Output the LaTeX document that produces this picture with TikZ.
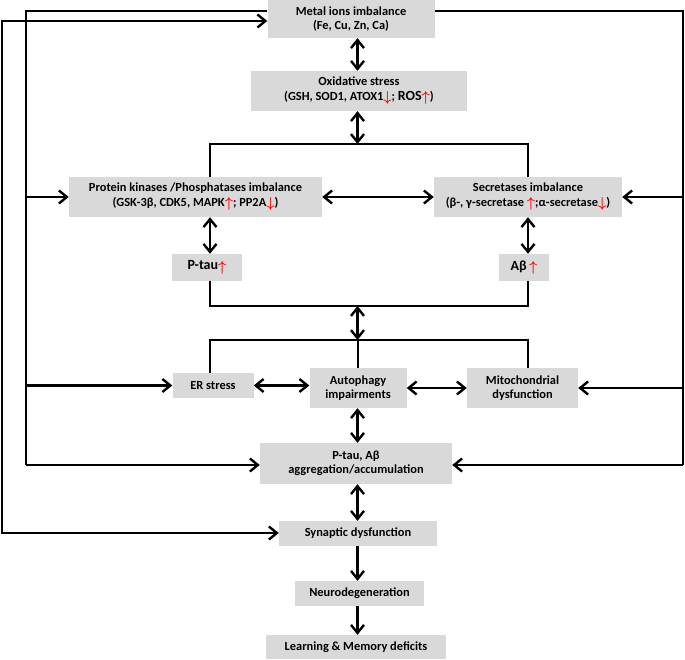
\documentclass[tikz,border=0pt]{standalone}
\usepackage{bm}
\usepackage{fontspec}
\setmainfont{Carlito}
\usepackage{xcolor}
\usepackage{tikz}
\usetikzlibrary{arrows.meta,calc}

\definecolor{boxgray}{RGB}{217,217,217}
\newcommand{\upred}{\textcolor{red}{\raisebox{-1.5pt}{\fontsize{15}{15}\selectfont$\bm{\uparrow}$}}}
\newcommand{\downred}{\textcolor{red}{\raisebox{-1.5pt}{\fontsize{15}{15}\selectfont$\bm{\downarrow}$}}}

\begin{document}
\begin{tikzpicture}[
    x=1pt, y=-1pt,
    font=\fontsize{12.4}{14.5}\selectfont\bfseries,
    box/.style={fill=boxgray, inner sep=1pt, align=center},
    link/.style={draw=black, line width=2pt, line join=miter},
    one/.style={link, line width=2.4pt, -{Straight Barb[length=8pt, width=13pt]}},
    dbl/.style={link, line width=2.4pt, {Straight Barb[length=8pt, width=13pt]}-{Straight Barb[length=8pt, width=13pt]}}
]
    \useasboundingbox (0,0) rectangle (685,660);

    % ==================== BOXES ====================
    \node[box, minimum width=167pt, minimum height=38pt] (metal) at (351,19) {Metal ions imbalance\\(Fe, Cu, Zn, Ca)};
    \node[box, minimum width=216pt, minimum height=40pt] (oxid) at (359,91) {Oxidative stress\\(GSH, SOD1, ATOX1\downred; {\fontsize{14}{14.5}\selectfont ROS}\upred)};
    \node[box, minimum width=253pt, minimum height=40pt] (kinase) at (195.5,197) {Protein kinases /Phosphatases imbalance\\(GSK-3β, CDK5, MAPK\upred; PP2A\downred)};
    \node[box, minimum width=188pt, minimum height=40pt] (secret) at (528,197) {Secretases imbalance\\(β-, γ-secretase \upred;α-secretase\downred )};
    \node[box, minimum width=70pt, minimum height=27pt, font=\fontsize{14}{16}\selectfont\bfseries] (ptau) at (207,267.5) {P-tau\upred};
    \node[box, minimum width=50pt, minimum height=27pt, font=\fontsize{14}{16}\selectfont\bfseries] (abeta) at (524,267.5) {Aβ\,\upred};
    \node[box, minimum width=81pt, minimum height=25pt] (er) at (213,385.5) {ER stress};
    \node[box, minimum width=97pt, minimum height=40pt] (auto) at (358,388) {Autophagy\\impairments};
    \node[box, minimum width=111pt, minimum height=40pt] (mito) at (522.5,388) {Mitochondrial\\dysfunction};
    \node[box, minimum width=192pt, minimum height=41pt] (aggr) at (356,463.5) {P-tau, Aβ\\aggregation/accumulation};
    \node[box, minimum width=158pt, minimum height=25pt] (synap) at (358,533.5) {Synaptic dysfunction};
    \node[box, minimum width=129pt, minimum height=25pt] (neuro) at (359.5,593.5) {Neurodegeneration};
    \node[box, minimum width=180pt, minimum height=24pt] (learn) at (356,647) {Learning \& Memory deficits};

    % Columns and junction points
    \coordinate (colL) at (210,0);
    \coordinate (colM) at (357.5,0);
    \coordinate (colR) at (528,0);
    \coordinate (brA) at (357.5,144);
    \coordinate (brB) at (357.5,306);
    \coordinate (brC) at (357.5,340);
    \coordinate (innerTop) at (26,11);
    \coordinate (innerBot) at (26,465);
    \coordinate (outerTop) at (2,21);
    \coordinate (outerBot) at (2,533);
    \coordinate (rightTop) at (683,11);
    \coordinate (rightBot) at (683,465);

    % ==================== CENTRE COLUMN ====================
    \draw[dbl] (metal.south -| colM) -- (oxid.north -| colM);
    \draw[dbl] (oxid.south -| colM) -- (brA);
    \draw[link] (kinase.north -| colL) -- (colL |- brA) -- (colR |- brA) -- (secret.north -| colR);
    \draw[dbl] (kinase.east) -- (secret.west);
    \draw[dbl] (kinase.south -| colL) -- (ptau.north -| colL);
    \draw[dbl] (secret.south -| colR) -- (abeta.north -| colR);
    \draw[link] (ptau.south -| colL) -- (colL |- brB) -- (colR |- brB) -- (abeta.south -| colR);
    \draw[dbl] (brB) -- (brC);
    \draw[link] (er.north -| colL) -- (colL |- brC) -- (colR |- brC) -- (mito.north -| colR);
    \draw[link] (brC) -- (auto.north -| colM);
    \draw[dbl] (er.east) -- (er.east -| auto.west);
    \draw[dbl] (auto.east) -- (mito.west);
    \draw[dbl] (auto.south -| colM) -- (aggr.north -| colM);
    \draw[dbl] (aggr.south -| colM) -- (synap.north -| colM);
    \draw[one] (synap.south -| colM) -- (neuro.north -| colM);
    \draw[one] (neuro.south -| colM) -- (learn.north -| colM);

    % ==================== FEEDBACK LINES ====================
    % inner left line
    \draw[link] (innerTop -| metal.west) -- (innerTop) -- (innerBot);
    \draw[one] (innerTop |- kinase.west) -- (kinase.west);
    \draw[one] (innerTop |- er.west) -- (er.west);
    \draw[one] (innerBot) -- (innerBot -| aggr.west);
    % outer left line
    \draw[dbl] (outerTop -| metal.west) -- (outerTop) -- (outerBot) -- (outerBot -| synap.west);
    % right line
    \draw[link] (rightTop -| metal.east) -- (rightTop) -- (rightBot);
    \draw[one] (rightTop |- secret.east) -- (secret.east);
    \draw[one] (rightTop |- mito.east) -- (mito.east);
    \draw[one] (rightBot) -- (rightBot -| aggr.east);

\end{tikzpicture}
\end{document}
